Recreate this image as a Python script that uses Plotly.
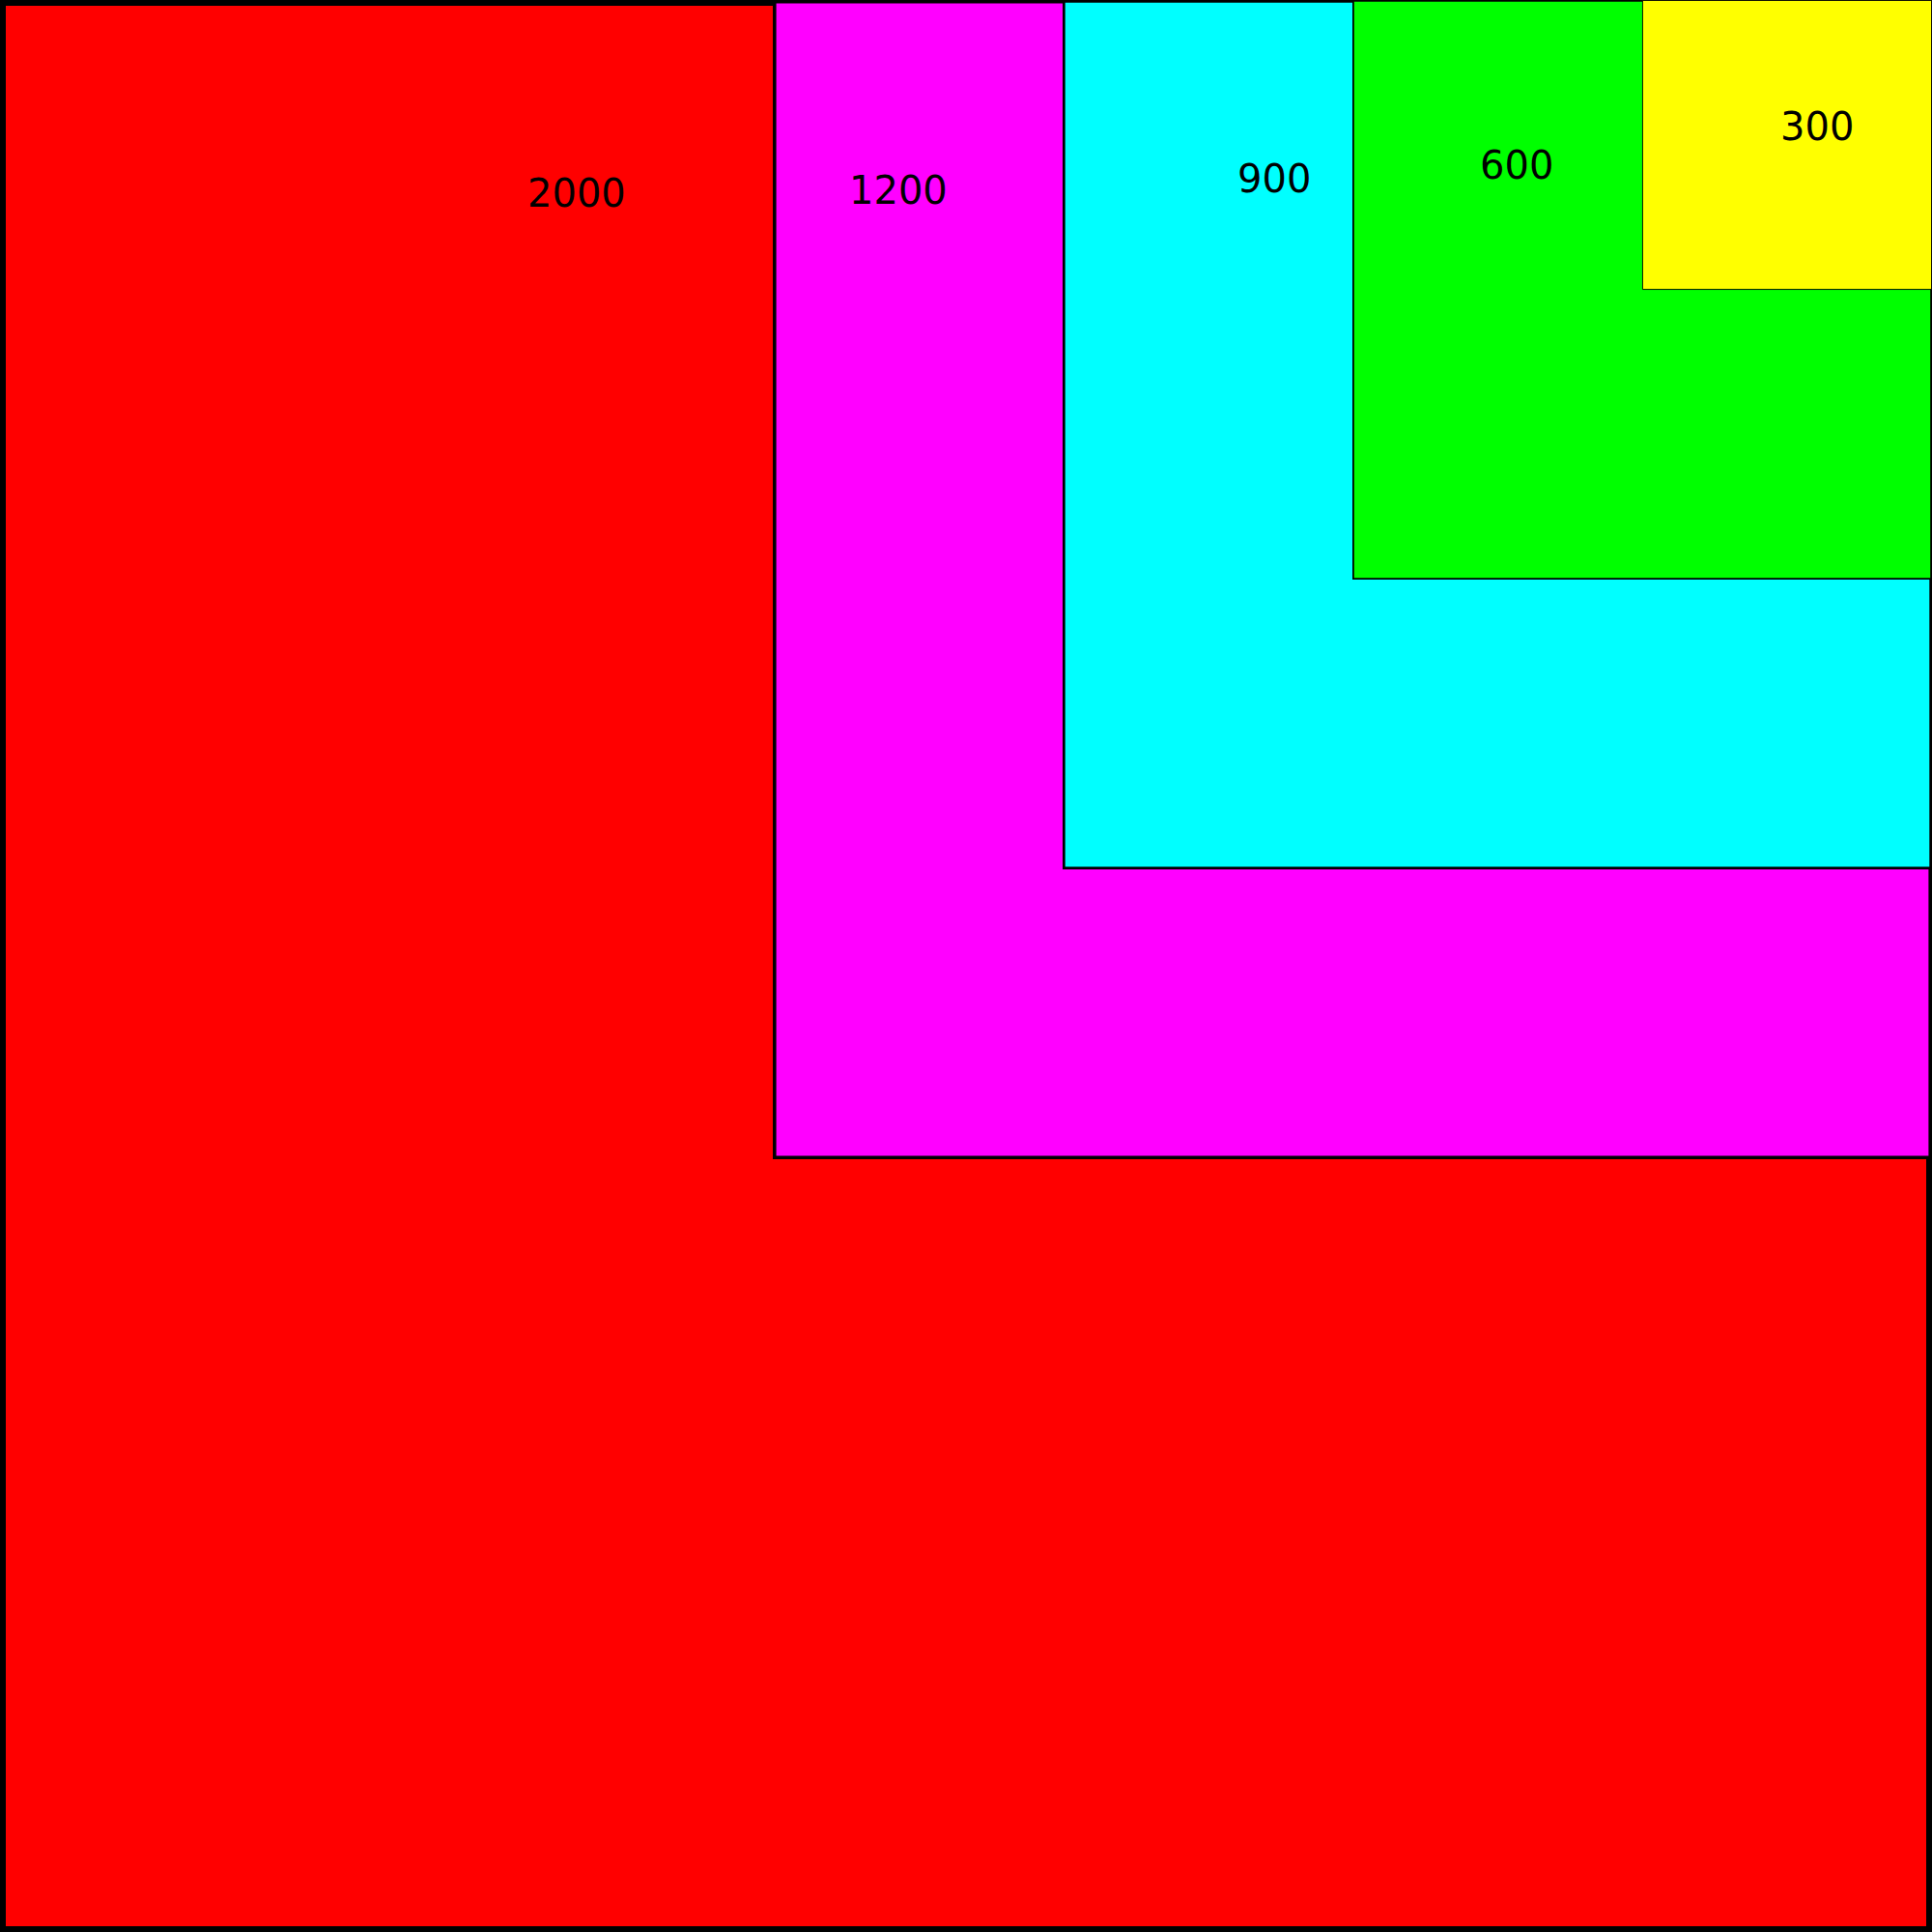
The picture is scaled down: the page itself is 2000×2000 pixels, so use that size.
import plotly.graph_objects as go

# Nested squares anchored at the top-right corner
sizes = [2000, 1200, 900, 600, 300]
labels = ["2000", "1200", "900", "600", "300"]
colors = ["#ff0000", "#ff00ff", "#00ffff", "#00ff00", "#ffff00"]
label_x = [597, 930, 1319, 1570, 1881]
label_y = [199.5, 196.7, 185.3, 171, 131]

CANVAS = 2000
fig = go.Figure()

shapes = []
for s, c in zip(sizes, colors):
    lw = s * 0.003
    h = lw / 2
    shapes.append(dict(
        type="rect", xref="x", yref="y",
        x0=CANVAS - s + h, x1=CANVAS - h,
        y0=h, y1=s - h,
        fillcolor=c,
        line=dict(color="black", width=lw),
        layer="below",
    ))

annotations = []
for t, x, y in zip(labels, label_x, label_y):
    annotations.append(dict(
        x=x, y=y, xref="x", yref="y", text=t, showarrow=False,
        xanchor="center", yanchor="middle",
        font=dict(family="DejaVu Sans", size=40, color="black"),
    ))

# invisible trace to establish axes
fig.add_trace(go.Scatter(x=[0, CANVAS], y=[0, CANVAS], mode="markers",
                         marker=dict(opacity=0), hoverinfo="skip", showlegend=False))

fig.update_layout(
    width=2000, height=2000,
    margin=dict(l=0, r=0, t=0, b=0),
    paper_bgcolor="white", plot_bgcolor="white",
    xaxis=dict(range=[0, CANVAS], visible=False, fixedrange=True),
    yaxis=dict(range=[CANVAS, 0], visible=False, fixedrange=True),
    shapes=shapes,
    annotations=annotations,
    showlegend=False,
)

fig.write_html("out.html")
